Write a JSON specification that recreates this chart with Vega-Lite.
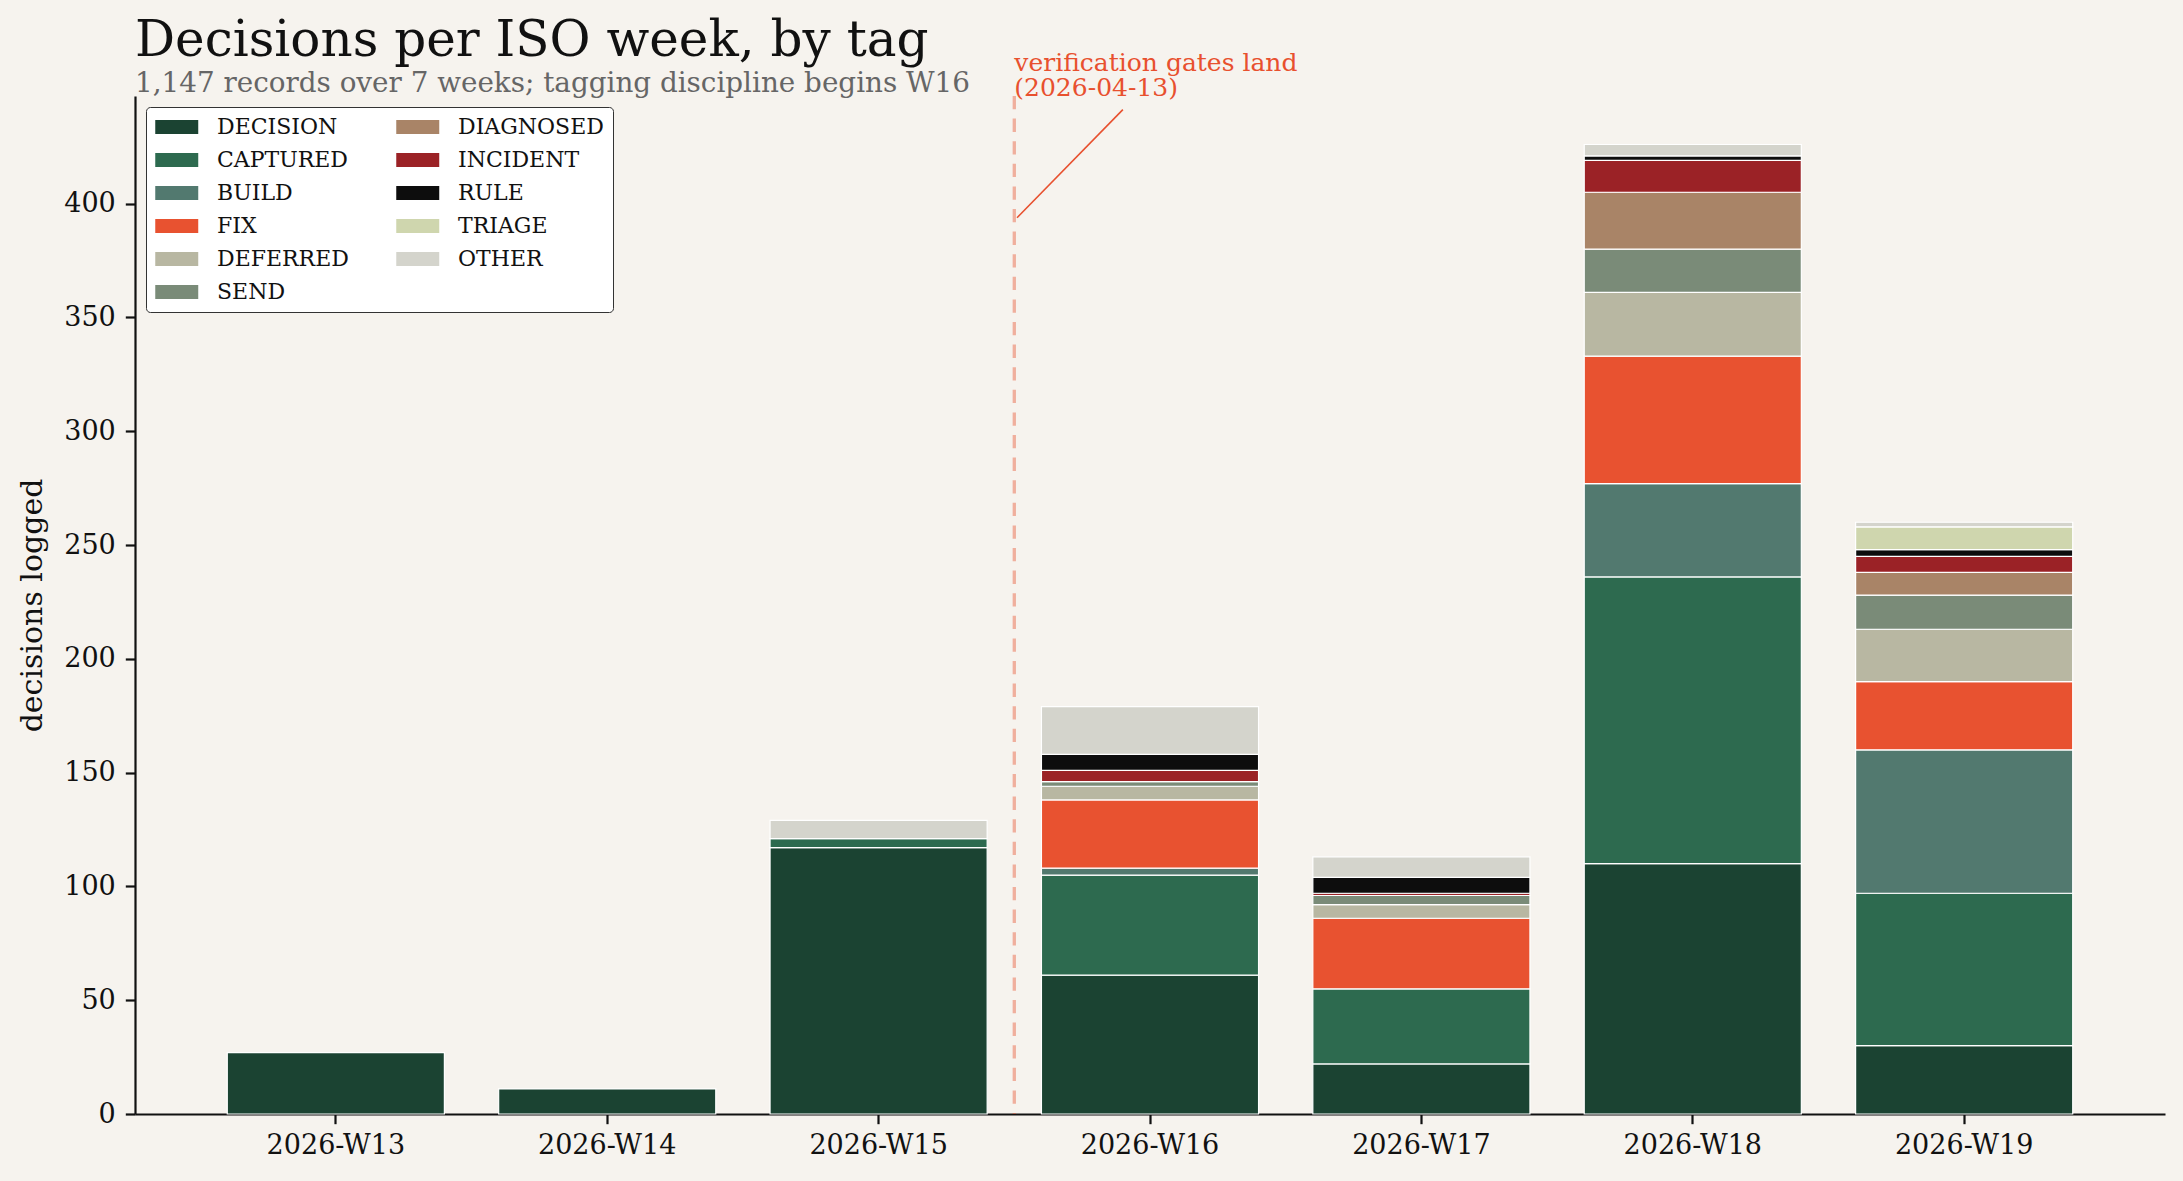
{
  "$schema": "https://vega.github.io/schema/vega-lite/v6.json",
  "width": 2030,
  "height": 1018,
  "autosize": {"type": "none"},
  "padding": {"left": 135, "top": 96, "right": 18, "bottom": 67},
  "background": "#f6f3ee",
  "config": {
    "font": "DejaVu Serif",
    "view": {"stroke": null},
    "axis": {"grid": false}
  },
  "title": {
    "text": "Decisions per ISO week, by tag",
    "subtitle": "1,147 records over 7 weeks; tagging discipline begins W16",
    "anchor": "start",
    "frame": "group",
    "font": "DejaVu Serif",
    "fontSize": 50,
    "fontWeight": "normal",
    "color": "#111111",
    "subtitleFont": "DejaVu Serif",
    "subtitleFontSize": 27.8,
    "subtitleColor": "#666666",
    "offset": -47,
    "subtitlePadding": 4
  },
  "datasets": {
    "counts": [
      {"week": "2026-W13", "tag": "DECISION", "n": 27},
      {"week": "2026-W14", "tag": "DECISION", "n": 11},
      {"week": "2026-W15", "tag": "DECISION", "n": 117},
      {"week": "2026-W15", "tag": "CAPTURED", "n": 4},
      {"week": "2026-W15", "tag": "OTHER", "n": 8},
      {"week": "2026-W16", "tag": "DECISION", "n": 61},
      {"week": "2026-W16", "tag": "CAPTURED", "n": 44},
      {"week": "2026-W16", "tag": "BUILD", "n": 3},
      {"week": "2026-W16", "tag": "FIX", "n": 30},
      {"week": "2026-W16", "tag": "DEFERRED", "n": 6},
      {"week": "2026-W16", "tag": "SEND", "n": 2},
      {"week": "2026-W16", "tag": "INCIDENT", "n": 5},
      {"week": "2026-W16", "tag": "RULE", "n": 7},
      {"week": "2026-W16", "tag": "OTHER", "n": 21},
      {"week": "2026-W17", "tag": "DECISION", "n": 22},
      {"week": "2026-W17", "tag": "CAPTURED", "n": 33},
      {"week": "2026-W17", "tag": "FIX", "n": 31},
      {"week": "2026-W17", "tag": "DEFERRED", "n": 6},
      {"week": "2026-W17", "tag": "SEND", "n": 4},
      {"week": "2026-W17", "tag": "INCIDENT", "n": 1},
      {"week": "2026-W17", "tag": "RULE", "n": 7},
      {"week": "2026-W17", "tag": "OTHER", "n": 9},
      {"week": "2026-W18", "tag": "DECISION", "n": 110},
      {"week": "2026-W18", "tag": "CAPTURED", "n": 126},
      {"week": "2026-W18", "tag": "BUILD", "n": 41},
      {"week": "2026-W18", "tag": "FIX", "n": 56},
      {"week": "2026-W18", "tag": "DEFERRED", "n": 28},
      {"week": "2026-W18", "tag": "SEND", "n": 19},
      {"week": "2026-W18", "tag": "DIAGNOSED", "n": 25},
      {"week": "2026-W18", "tag": "INCIDENT", "n": 14},
      {"week": "2026-W18", "tag": "RULE", "n": 2},
      {"week": "2026-W18", "tag": "OTHER", "n": 5},
      {"week": "2026-W19", "tag": "DECISION", "n": 30},
      {"week": "2026-W19", "tag": "CAPTURED", "n": 67},
      {"week": "2026-W19", "tag": "BUILD", "n": 63},
      {"week": "2026-W19", "tag": "FIX", "n": 30},
      {"week": "2026-W19", "tag": "DEFERRED", "n": 23},
      {"week": "2026-W19", "tag": "SEND", "n": 15},
      {"week": "2026-W19", "tag": "DIAGNOSED", "n": 10},
      {"week": "2026-W19", "tag": "INCIDENT", "n": 7},
      {"week": "2026-W19", "tag": "RULE", "n": 3},
      {"week": "2026-W19", "tag": "TRIAGE", "n": 10},
      {"week": "2026-W19", "tag": "OTHER", "n": 2}
    ],
    "tags": [
      {"tag": "DECISION", "stack_rank": 1},
      {"tag": "CAPTURED", "stack_rank": 2},
      {"tag": "BUILD", "stack_rank": 3},
      {"tag": "FIX", "stack_rank": 4},
      {"tag": "DEFERRED", "stack_rank": 5},
      {"tag": "SEND", "stack_rank": 6},
      {"tag": "DIAGNOSED", "stack_rank": 7},
      {"tag": "INCIDENT", "stack_rank": 8},
      {"tag": "RULE", "stack_rank": 9},
      {"tag": "TRIAGE", "stack_rank": 10},
      {"tag": "OTHER", "stack_rank": 11}
    ]
  },
  "layer": [
    {
      "data": {"name": "counts"},
      "transform": [
        {"lookup": "tag", "from": {"data": {"name": "tags"}, "key": "tag", "fields": ["stack_rank"]}}
      ],
      "mark": {"type": "bar", "stroke": "white", "strokeWidth": 1.2},
      "encoding": {
        "x": {
          "field": "week",
          "type": "ordinal",
          "scale": {"paddingInner": 0.2, "paddingOuter": 0.34},
          "axis": {
            "title": null,
            "labelAngle": 0,
            "labelFont": "DejaVu Serif",
            "labelFontSize": 27,
            "labelColor": "#111111",
            "labelPadding": 9,
            "tickSize": 9.7,
            "tickWidth": 2.2,
            "tickColor": "#111111",
            "domainColor": "#111111",
            "domainWidth": 2.2
          }
        },
        "y": {
          "field": "n",
          "type": "quantitative",
          "stack": "zero",
          "scale": {"domain": [0, 447.3], "nice": false},
          "axis": {
            "title": "decisions logged",
            "titleFont": "DejaVu Serif",
            "titleFontSize": 30,
            "titleFontWeight": "normal",
            "titleColor": "#111111",
            "titlePadding": 16,
            "values": [0, 50, 100, 150, 200, 250, 300, 350, 400],
            "labelFont": "DejaVu Serif",
            "labelFontSize": 27,
            "labelColor": "#111111",
            "labelPadding": 10,
            "tickSize": 9.7,
            "tickWidth": 2.2,
            "tickColor": "#111111",
            "domainColor": "#111111",
            "domainWidth": 2.2
          }
        },
        "color": {
          "field": "tag",
          "type": "nominal",
          "scale": {
            "domain": ["DECISION", "CAPTURED", "BUILD", "FIX", "DEFERRED", "SEND", "DIAGNOSED", "INCIDENT", "RULE", "TRIAGE", "OTHER"],
            "range": ["#1b4332", "#2d6a4f", "#52796f", "#e85230", "#b8b7a2", "#7a8b78", "#a98467", "#9b2226", "#0d0d0d", "#cfd6ae", "#d4d4cc"]
          },
          "legend": {
            "title": null,
            "orient": "top-left",
            "offset": 11,
            "columns": 2,
            "fillColor": "white",
            "strokeColor": "#333333",
            "cornerRadius": 4,
            "padding": 9,
            "symbolType": "M-1,-0.65H3V0.65H-1Z",
            "symbolSize": 462,
            "symbolStrokeWidth": 0,
            "symbolOpacity": 1,
            "labelFont": "DejaVu Serif",
            "labelFontSize": 22,
            "labelColor": "#111111",
            "labelOffset": 40,
            "rowPadding": 11,
            "columnPadding": 47
          }
        },
        "order": {"field": "stack_rank", "type": "quantitative", "sort": "ascending"}
      }
    },
    {
      "data": {"values": [{}]},
      "mark": {"type": "rule", "color": "#e8502e", "opacity": 0.42, "strokeWidth": 3.3, "strokeDash": [13.3, 9.3]},
      "encoding": {
        "x": {"datum": 2.5, "type": "quantitative", "scale": {"domain": [-0.74, 6.74], "nice": false, "zero": false}, "axis": null}
      }
    },
    {
      "data": {"values": [{}]},
      "mark": {"type": "rule", "color": "#e8502e", "strokeWidth": 1.6},
      "encoding": {
        "x": {"datum": 2.9, "type": "quantitative", "scale": {"domain": [-0.74, 6.74], "nice": false, "zero": false}, "axis": null},
        "x2": {"datum": 2.51},
        "y": {"datum": 441.3, "type": "quantitative", "scale": {"domain": [0, 447.3], "nice": false}},
        "y2": {"datum": 393.8}
      }
    },
    {
      "data": {"values": [{}]},
      "mark": {
        "type": "text",
        "align": "left",
        "baseline": "alphabetic",
        "font": "DejaVu Serif",
        "fontSize": 25,
        "color": "#e8502e",
        "lineHeight": 25,
        "text": ["verification gates land", "(2026-04-13)"]
      },
      "encoding": {
        "x": {"datum": 2.5, "type": "quantitative", "scale": {"domain": [-0.74, 6.74], "nice": false, "zero": false}, "axis": null},
        "y": {"datum": 458.5, "type": "quantitative", "scale": {"domain": [0, 447.3], "nice": false}}
      }
    }
  ],
  "resolve": {"scale": {"x": "independent"}, "axis": {"x": "independent"}}
}
